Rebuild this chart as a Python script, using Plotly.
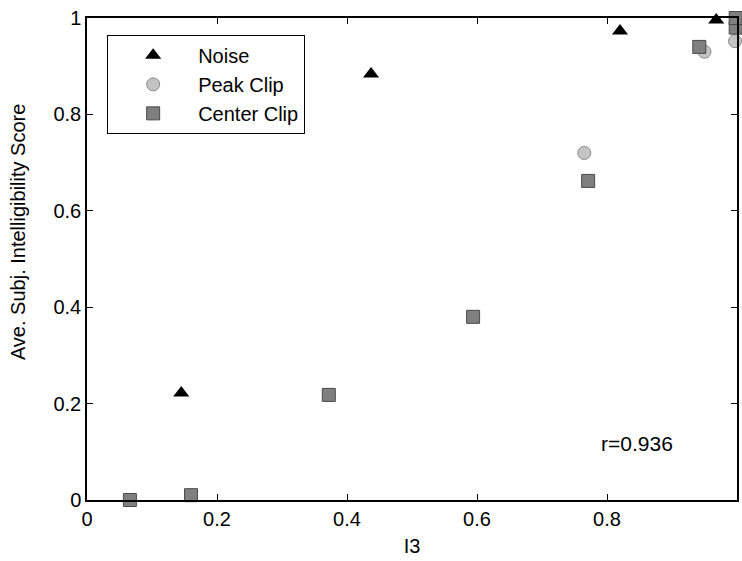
import plotly.graph_objects as go

noise_x = [0.145, 0.437, 0.820, 0.968]
noise_y = [0.222, 0.884, 0.973, 0.996]

peak_x = [0.765, 0.950, 0.997]
peak_y = [0.720, 0.930, 0.952]

center_x = [0.066, 0.160, 0.372, 0.594, 0.771, 0.942, 0.998, 0.998]
center_y = [0.000, 0.010, 0.218, 0.380, 0.662, 0.940, 0.980, 1.000]

tick_vals = [0, 0.2, 0.4, 0.6, 0.8, 1]
tick_text = ["0", "0.2", "0.4", "0.6", "0.8", "1"]

FONT = "Liberation Sans, Arial, Helvetica, sans-serif"

fig = go.Figure()
fig.add_trace(go.Scatter(
    x=noise_x, y=noise_y, mode="markers", name="Noise",
    marker=dict(symbol="triangle-up", size=14, color="black", line=dict(color="black", width=0)),
    cliponaxis=False))
fig.add_trace(go.Scatter(
    x=peak_x, y=peak_y, mode="markers", name="Peak Clip",
    marker=dict(symbol="circle", size=13, color="#c4c4c4", line=dict(color="#8a8a8a", width=1)),
    cliponaxis=False))
fig.add_trace(go.Scatter(
    x=center_x, y=center_y, mode="markers", name="Center Clip",
    marker=dict(symbol="square", size=13, color="#7f7f7f", line=dict(color="#4a4a4a", width=1)),
    cliponaxis=False))

fig.add_annotation(x=0.846, y=0.118, xref="x", yref="y", text="r=0.936",
                   showarrow=False, font=dict(family=FONT, size=21, color="black"))

# y-axis title (placed slightly above the axis centre, as in the original)
fig.add_annotation(x=-0.106, y=0.556, xref="paper", yref="paper",
                   text="Ave. Subj. Intelligibility Score", textangle=-90,
                   showarrow=False, xanchor="center", yanchor="middle",
                   font=dict(family=FONT, size=20, color="black"))

axis_common = dict(
    range=[0, 1], tickvals=tick_vals, ticktext=tick_text,
    showgrid=False, zeroline=False, showline=True, linecolor="black", linewidth=1.5,
    mirror="ticks", ticks="inside", ticklen=6, tickcolor="black", tickwidth=1.2,
    tickfont=dict(family=FONT, size=20, color="black"),
)

fig.update_layout(
    width=742, height=561,
    margin=dict(l=87, r=3, t=18, b=61),
    paper_bgcolor="white", plot_bgcolor="white",
    font=dict(family=FONT, color="black"),
    xaxis=dict(**axis_common, title=dict(text="I3", font=dict(family=FONT, size=20), standoff=10)),
    yaxis=dict(**axis_common),
    legend=dict(x=0.031, y=0.965, xanchor="left", yanchor="top",
                bgcolor="white", bordercolor="black", borderwidth=1,
                font=dict(family=FONT, size=20), itemwidth=80,
                tracegroupgap=0),
    showlegend=True,
)

fig.write_html("out.html")
